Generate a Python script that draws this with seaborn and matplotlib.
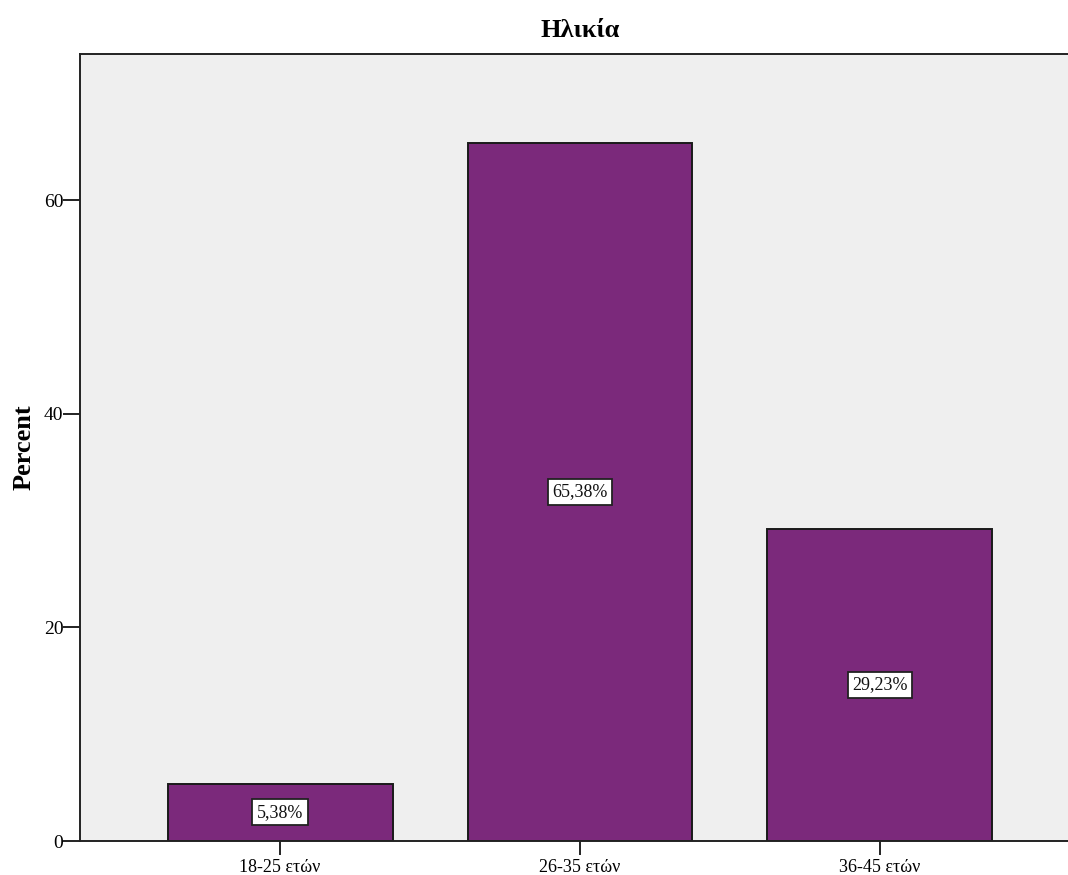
import matplotlib
matplotlib.use("Agg")
import matplotlib.pyplot as plt
import seaborn as sns
import pandas as pd

categories = ["18-25 ετών", "26-35 ετών", "36-45 ετών"]
percent = [5.38, 65.38, 29.23]
value_labels = ["5,38%", "65,38%", "29,23%"]
y_ticks = [0, 20, 40, 60]

df = pd.DataFrame({"group": categories, "pct": percent})

sns.set_theme(style="white")
plt.rcParams["font.family"] = ["Liberation Serif", "DejaVu Serif"]
plt.rcParams["text.color"] = "black"
plt.rcParams["axes.labelcolor"] = "black"
plt.rcParams["xtick.color"] = "black"
plt.rcParams["ytick.color"] = "black"

fig = plt.figure(figsize=(10.68, 8.75), dpi=100)
ax = fig.add_axes([80 / 1068, 34 / 875, 1000 / 1068, 787 / 875])
ax.set_facecolor("#efefef")

sns.barplot(data=df, x="group", y="pct", ax=ax, color="#7b297b",
            saturation=1, width=0.75, edgecolor="#1a1a1a", linewidth=1.4)

for patch, lab in zip(ax.patches, value_labels):
    cx = patch.get_x() + patch.get_width() / 2
    cy = patch.get_height() / 2
    ax.text(cx, cy, lab, ha="center", va="center", fontsize=13, color="#111111",
            bbox=dict(boxstyle="square,pad=0.25", facecolor="white",
                      edgecolor="#222222", linewidth=1.3))

ax.set_xlim(-0.667, 2.667)
ax.set_ylim(0, 73.7)
ax.set_yticks(y_ticks)
ax.set_xlabel("")
ax.set_ylabel("Percent", fontsize=19, fontweight="bold", labelpad=6)
ax.set_title("Ηλικία", fontsize=19, fontweight="bold", pad=12)

for side in ["left", "bottom", "top", "right"]:
    ax.spines[side].set_visible(True)
    ax.spines[side].set_color("#222222")
    ax.spines[side].set_linewidth(1.4)

ax.tick_params(axis="y", direction="out", length=12, width=1.4, color="#222222",
               labelsize=14, pad=0, left=True)
ax.tick_params(axis="x", direction="out", length=10, width=1.4, color="#222222",
               labelsize=13, pad=3, bottom=True)

fig.savefig("out.png", dpi=100, facecolor="white")
